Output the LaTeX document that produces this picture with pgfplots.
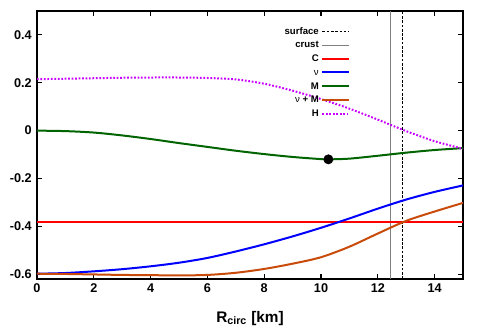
\documentclass[border=0pt]{standalone}
\usepackage{fontspec}
\setmainfont{Liberation Sans}
\usepackage{pgfplots}
\pgfplotsset{compat=1.18}

\definecolor{cC}{RGB}{255,0,0}
\definecolor{cNu}{RGB}{0,0,255}
\definecolor{cM}{RGB}{0,100,0}
\definecolor{cNuM}{RGB}{200,75,10}
\definecolor{cH}{RGB}{200,0,255}
\definecolor{cCrust}{RGB}{128,128,128}

\begin{document}
\begin{tikzpicture}
  \begin{axis}[
    scale only axis,
    width=319.5pt, height=201pt,
    xmin=0, xmax=15,
    ymin=-0.62, ymax=0.5,
    xtick={0,2,...,14},
    ytick={-0.6,-0.4,...,0.4},
    axis line style={line width=1pt},
    tick style={line width=0.8pt, black},
    major tick length=3.5pt,
    tick align=inside,
    /pgf/number format/assume math mode=true,
    /pgf/number format/fixed,
    tick label style={font=\bfseries\fontsize{9.5}{10}\selectfont},
    yticklabel style={xshift=-0.5pt},
    xlabel={R\textsubscript{circ} [km]},
    xlabel style={font=\bfseries\fontsize{11.5}{13}\selectfont, yshift=-7pt},
    legend style={draw=none, fill=none, at={(0.745,0.962)}, anchor=north east,
      font=\bfseries\fontsize{7.2}{8}\selectfont, row sep=-0.4pt,
      nodes={text height=5.5pt, text depth=1.2pt},
      legend cell align=right},
    legend plot pos=right,
    legend image code/.code={\draw[#1] (0pt,0pt) -- (20pt,0pt);},
  ]
  % surface and crust markers
  \addplot[black, line width=0.5pt, dash pattern=on 2pt off 1.2pt] coordinates {(12.85,-0.62) (12.85,0.5)};
  \addlegendentry{surface}
  \addplot[cCrust, line width=0.7pt] coordinates {(12.45,-0.62) (12.45,0.5)};
  \addlegendentry{crust}
  % C
  \addplot[cC, line width=1.5pt] coordinates {(0,-0.38) (15,-0.38)};
  \addlegendentry{C}
  % nu
  \addplot[cNu, line width=1.5pt, smooth] coordinates {
    (0,-0.598) (1,-0.595) (2,-0.588) (3,-0.579) (4,-0.567) (5,-0.552)
    (6,-0.532) (7,-0.505) (8,-0.475) (9,-0.442) (10,-0.406) (11,-0.367)
    (12,-0.326) (13,-0.288) (14,-0.256) (15,-0.229)
  };
  \addlegendentry{\mdseries ν}
  % M
  \addplot[cM, line width=1.5pt, smooth] coordinates {
    (0,0) (1,-0.002) (2,-0.008) (3,-0.02) (4,-0.035) (5,-0.052)
    (6,-0.068) (7,-0.084) (8,-0.098) (9,-0.11) (10,-0.119) (10.26,-0.12)
    (11,-0.117) (12,-0.105) (13,-0.092) (14,-0.081) (15,-0.073)
  };
  \addlegendentry{M}
  % nu + M
  \addplot[cNuM, line width=1.5pt, smooth] coordinates {
    (0,-0.598) (1,-0.599) (2,-0.601) (3,-0.603) (4,-0.604) (5,-0.605)
    (6,-0.603) (7,-0.594) (8,-0.578) (9,-0.556) (10,-0.529) (11,-0.485)
    (12,-0.430) (13,-0.377) (14,-0.338) (15,-0.302)
  };
  \addlegendentry{{\mdseries ν} + M}
  % H
  \addplot[cH, line width=1.5pt, dash pattern=on 1.3pt off 1.3pt, smooth] coordinates {
    (0,0.215) (1,0.217) (2,0.219) (3,0.221) (4,0.222) (5,0.222)
    (6,0.220) (7,0.214) (8,0.196) (9,0.167) (10,0.132) (11,0.092)
    (12,0.046) (13,-0.002) (14,-0.044) (15,-0.076)
  };
  \addlegendentry{H}
  % minimum of M
  \addplot[only marks, mark=*, mark size=3.5pt, black, forget plot] coordinates {(10.26,-0.12)};
  \end{axis}
  \path (current axis.south west) +(-27.75pt,-42.75pt);
  \path (current axis.north east) +(12.75pt,8.25pt);
\end{tikzpicture}
\end{document}
